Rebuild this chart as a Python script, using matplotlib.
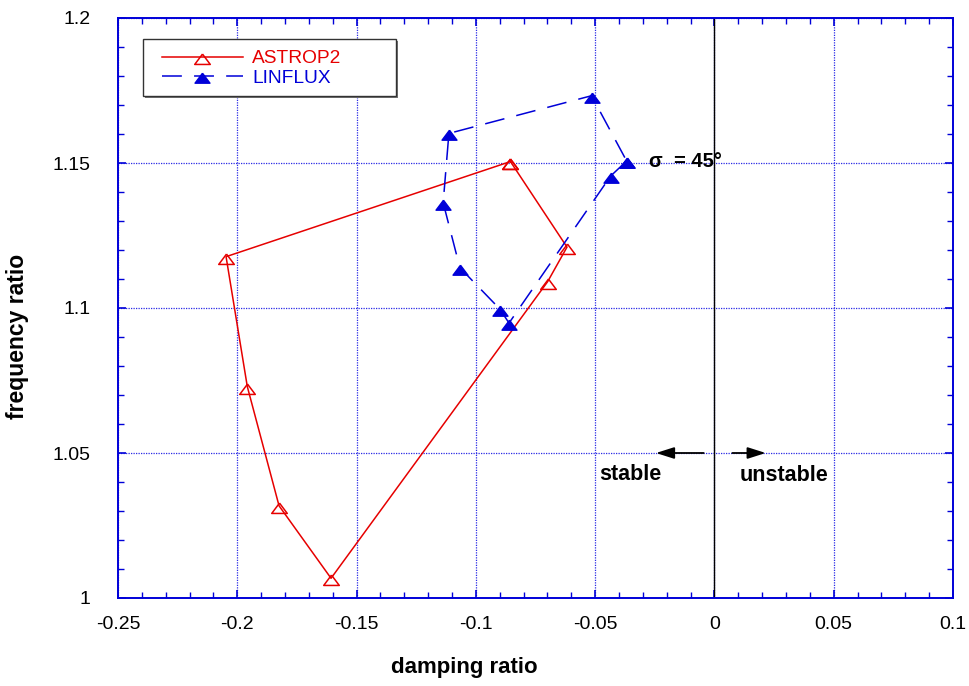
import matplotlib
matplotlib.use("Agg")
import matplotlib.pyplot as plt
from matplotlib.ticker import MultipleLocator, FuncFormatter
from matplotlib.patches import Rectangle

plt.rcParams['font.family'] = ['Liberation Sans', 'DejaVu Sans']
plt.rcParams['axes.unicode_minus'] = False

# damping ratio / frequency ratio loops over interblade phase angle
astrop2_damping = [-0.0855, -0.0618, -0.0699, -0.1607, -0.1825, -0.1958, -0.2047, -0.0855]
astrop2_freq = [1.1505, 1.1210, 1.1091, 1.0068, 1.0318, 1.0729, 1.1177, 1.1505]

linflux_damping = [-0.0368, -0.0435, -0.0861, -0.0899, -0.1067, -0.1137, -0.1113, -0.0515, -0.0368]
linflux_freq = [1.1507, 1.1455, 1.0948, 1.0996, 1.1139, 1.1363, 1.1602, 1.1732, 1.1507]

RED = '#e60000'
BLUE = '#0000d8'
GRIDBLUE = '#2a2ae6'

# flattened triangle, data point sits near the apex
tri = [(0, 3.3), (-7.5, -6.7), (7.5, -6.7), (0, 3.3)]

fig = plt.figure(figsize=(9.69, 6.86), dpi=100)
ax = fig.add_axes([118 / 969, 1 - 598 / 686, 835 / 969, 580 / 686])

ax.plot(astrop2_damping, astrop2_freq, color=RED, lw=1.1,
        marker=tri, markersize=11.2, markerfacecolor='none',
        markeredgecolor=RED, markeredgewidth=1.1, label='ASTROP2', zorder=4)
ax.plot(linflux_damping, linflux_freq, color=BLUE, lw=1.1,
        linestyle=(0, (13, 8)),
        marker=tri, markersize=10.8, markerfacecolor=BLUE,
        markeredgecolor=BLUE, label='LINFLUX', zorder=5)

ax.set_xlim(-0.25, 0.1)
ax.set_ylim(1.0, 1.2)
ax.xaxis.set_major_locator(MultipleLocator(0.05))
ax.xaxis.set_minor_locator(MultipleLocator(0.01))
ax.yaxis.set_major_locator(MultipleLocator(0.05))
ax.yaxis.set_minor_locator(MultipleLocator(0.01))
fmt = FuncFormatter(lambda v, p: f'{round(v, 3):g}')
ax.xaxis.set_major_formatter(fmt)
ax.yaxis.set_major_formatter(fmt)

ax.grid(which='major', color=GRIDBLUE, linestyle=(0, (1, 1)), lw=0.9)
ax.axvline(0, color='black', lw=1.0, zorder=2)

for s in ax.spines.values():
    s.set_color(BLUE)
    s.set_linewidth(1.4)

ax.tick_params(which='both', direction='in', top=True, right=True,
               color=BLUE, labelcolor='black', labelsize=14)
ax.tick_params(which='major', length=6, width=1.2)
ax.tick_params(which='minor', length=4, width=1.0)
ax.tick_params(axis='x', pad=13)
ax.tick_params(axis='y', pad=20)

# stability direction arrows
ax.annotate('', xy=(-0.0245, 1.05), xytext=(-0.0045, 1.05),
            arrowprops=dict(arrowstyle='-|>,head_length=1.1,head_width=0.35',
                            color='black', lw=1.3, shrinkA=0, shrinkB=0))
ax.annotate('', xy=(0.0215, 1.05), xytext=(0.0075, 1.05),
            arrowprops=dict(arrowstyle='-|>,head_length=1.1,head_width=0.35',
                            color='black', lw=1.3, shrinkA=0, shrinkB=0))
ax.text(-0.0485, 1.0425, 'stable', fontsize=15.5, fontweight='bold',
        ha='left', va='center')
ax.text(0.0105, 1.0422, 'unstable', fontsize=15.5, fontweight='bold',
        ha='left', va='center')
ax.text(-0.0275, 1.1505, 'σ  = 45°', fontsize=14.5, fontweight='bold',
        ha='left', va='center')

fig.text(18 / 969, 1 - 336 / 686, 'frequency ratio', rotation=90,
         fontsize=16.5, fontweight='bold', ha='center', va='center')
fig.text(464 / 969, 1 - 667 / 686, 'damping ratio',
         fontsize=16, fontweight='bold', ha='center', va='center')

# legend frame with a small drop shadow
x0, y0, w, h = 143 / 969, 1 - 96 / 686, 253 / 969, 57 / 686
fig.patches.append(Rectangle((x0 + 2 / 969, y0 - 2 / 686), w, h,
                             transform=fig.transFigure, facecolor='0.45',
                             edgecolor='none', zorder=6))
fig.patches.append(Rectangle((x0, y0), w, h, transform=fig.transFigure,
                             facecolor='white', edgecolor='0.2', lw=1.0,
                             zorder=7))
leg = ax.legend(loc='upper left', bbox_to_anchor=(162 / 969, 1 - 50 / 686),
                bbox_transform=fig.transFigure, frameon=False,
                fontsize=13.8, handlelength=4.2, handletextpad=0.5,
                borderpad=0, borderaxespad=0, labelspacing=0.12)
leg.set_zorder(8)
leg.set_figure(fig)
ax.legend_ = None
fig.legends.append(leg)
for t, c in zip(leg.get_texts(), [RED, BLUE]):
    t.set_color(c)

fig.savefig('out.png', dpi=100)
